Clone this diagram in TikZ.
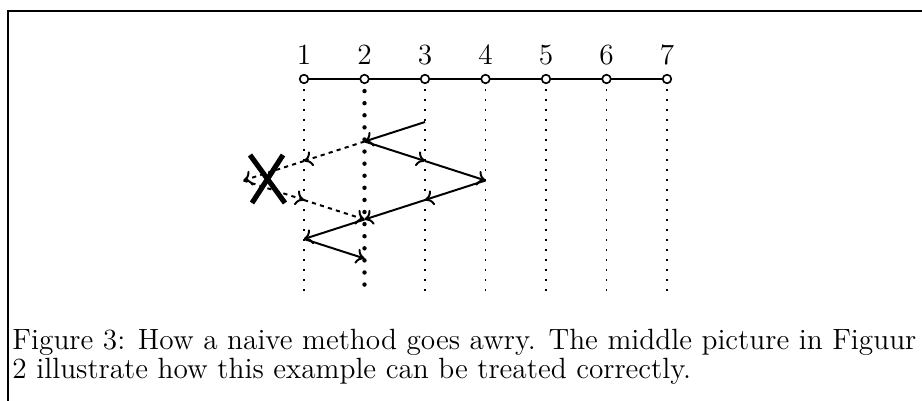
\documentclass[tikz,border=0pt]{standalone}
\usetikzlibrary{arrows.meta}
\begin{document}
\begin{tikzpicture}[x=0.43pt,y=-0.43pt,
  frame/.style={line width=0.9pt},
  vtx/.style={circle,draw,fill=white,inner sep=0pt,minimum size=3.7pt,line width=0.7pt,
    path picture={\fill (path picture bounding box.center) circle (0.5pt);}},
  lab/.style={anchor=base,inner sep=0pt,font=\fontsize{12.6}{15}\selectfont},
  hline/.style={line width=0.75pt},
  thindots/.style={line width=0.7pt,dash pattern=on 0.7pt off 3.6pt},
  thickdots/.style={line width=1.9pt,line cap=round,dash pattern=on 0pt off 5.2pt},
  tip/.style={-{To[length=3.6pt,width=6.6pt]}},
  solidarr/.style={tip,line width=0.85pt},
  dasharr/.style={tip,line width=0.85pt,dash pattern=on 1.8pt off 1.8pt},
  xmark/.style={line width=2.2pt},
  captext/.style={anchor=base west,inner sep=0pt,font=\fontsize{12.6}{15}\selectfont}]
\useasboundingbox (0,0) rectangle (922,401);
\draw[frame] (8,403) -- (8,11) -- (924,11);
% columns
\foreach \k in {1,...,7}{
  \pgfmathsetmacro{\xx}{304+60.5*(\k-1)}
  \coordinate (t\k) at (\xx,89);
  \coordinate (b\k) at (\xx,293);
  \coordinate (c\k) at (\xx,79);
  \coordinate (q\k) at (\xx,65);
}
\foreach \k in {1,3,4,5,6,7}{ \draw[thindots] (t\k) -- (b\k); }
\draw[thickdots] (c2) -- (b2);
\draw[hline] (c1) -- (c7);
\foreach \k in {1,...,7}{
  \node[vtx] (v\k) at (c\k) {};
  \node[lab] (l\k) at (q\k) {\k};
}
% arrow points
\coordinate (s0) at (425,122);
\coordinate (s1) at (364.5,141.5);
\coordinate (s2) at (425,161);
\coordinate (s3) at (485.5,180.5);
\coordinate (s4) at (425,200);
\coordinate (s5) at (364.5,219.5);
\coordinate (s6) at (304,239);
\coordinate (s7) at (364.5,258.5);
\coordinate (d2) at (304,161);
\coordinate (d3) at (243.5,180.5);
\coordinate (d4) at (304,200);
\draw[solidarr] (s0) -- (s1);
\draw[solidarr] (s1) -- (s2);
\draw[solidarr] (s2) -- (s3);
\draw[solidarr] (s3) -- (s4);
\draw[solidarr] (s4) -- (s5);
\draw[solidarr] (s5) -- (s6);
\draw[solidarr] (s6) -- (s7);
\draw[dasharr] (s1) -- (d2);
\draw[dasharr] (d2) -- (d3);
\draw[dasharr] (d3) -- (d4);
\draw[dasharr] (d4) -- (s5);
% cross
\coordinate (x1) at (250,155);
\coordinate (x2) at (285,203);
\coordinate (x3) at (283,155);
\coordinate (x4) at (252,203);
\draw[xmark] (x1) -- (x2);
\draw[xmark] (x3) -- (x4);
% caption
\node[captext] (cap1) at (12,350) {Figure 3: How a naive method goes awry. The middle picture in Figuur};
\node[captext] (cap2) at (12,379) {2 illustrate how this example can be treated correctly.};
\end{tikzpicture}
\end{document}
